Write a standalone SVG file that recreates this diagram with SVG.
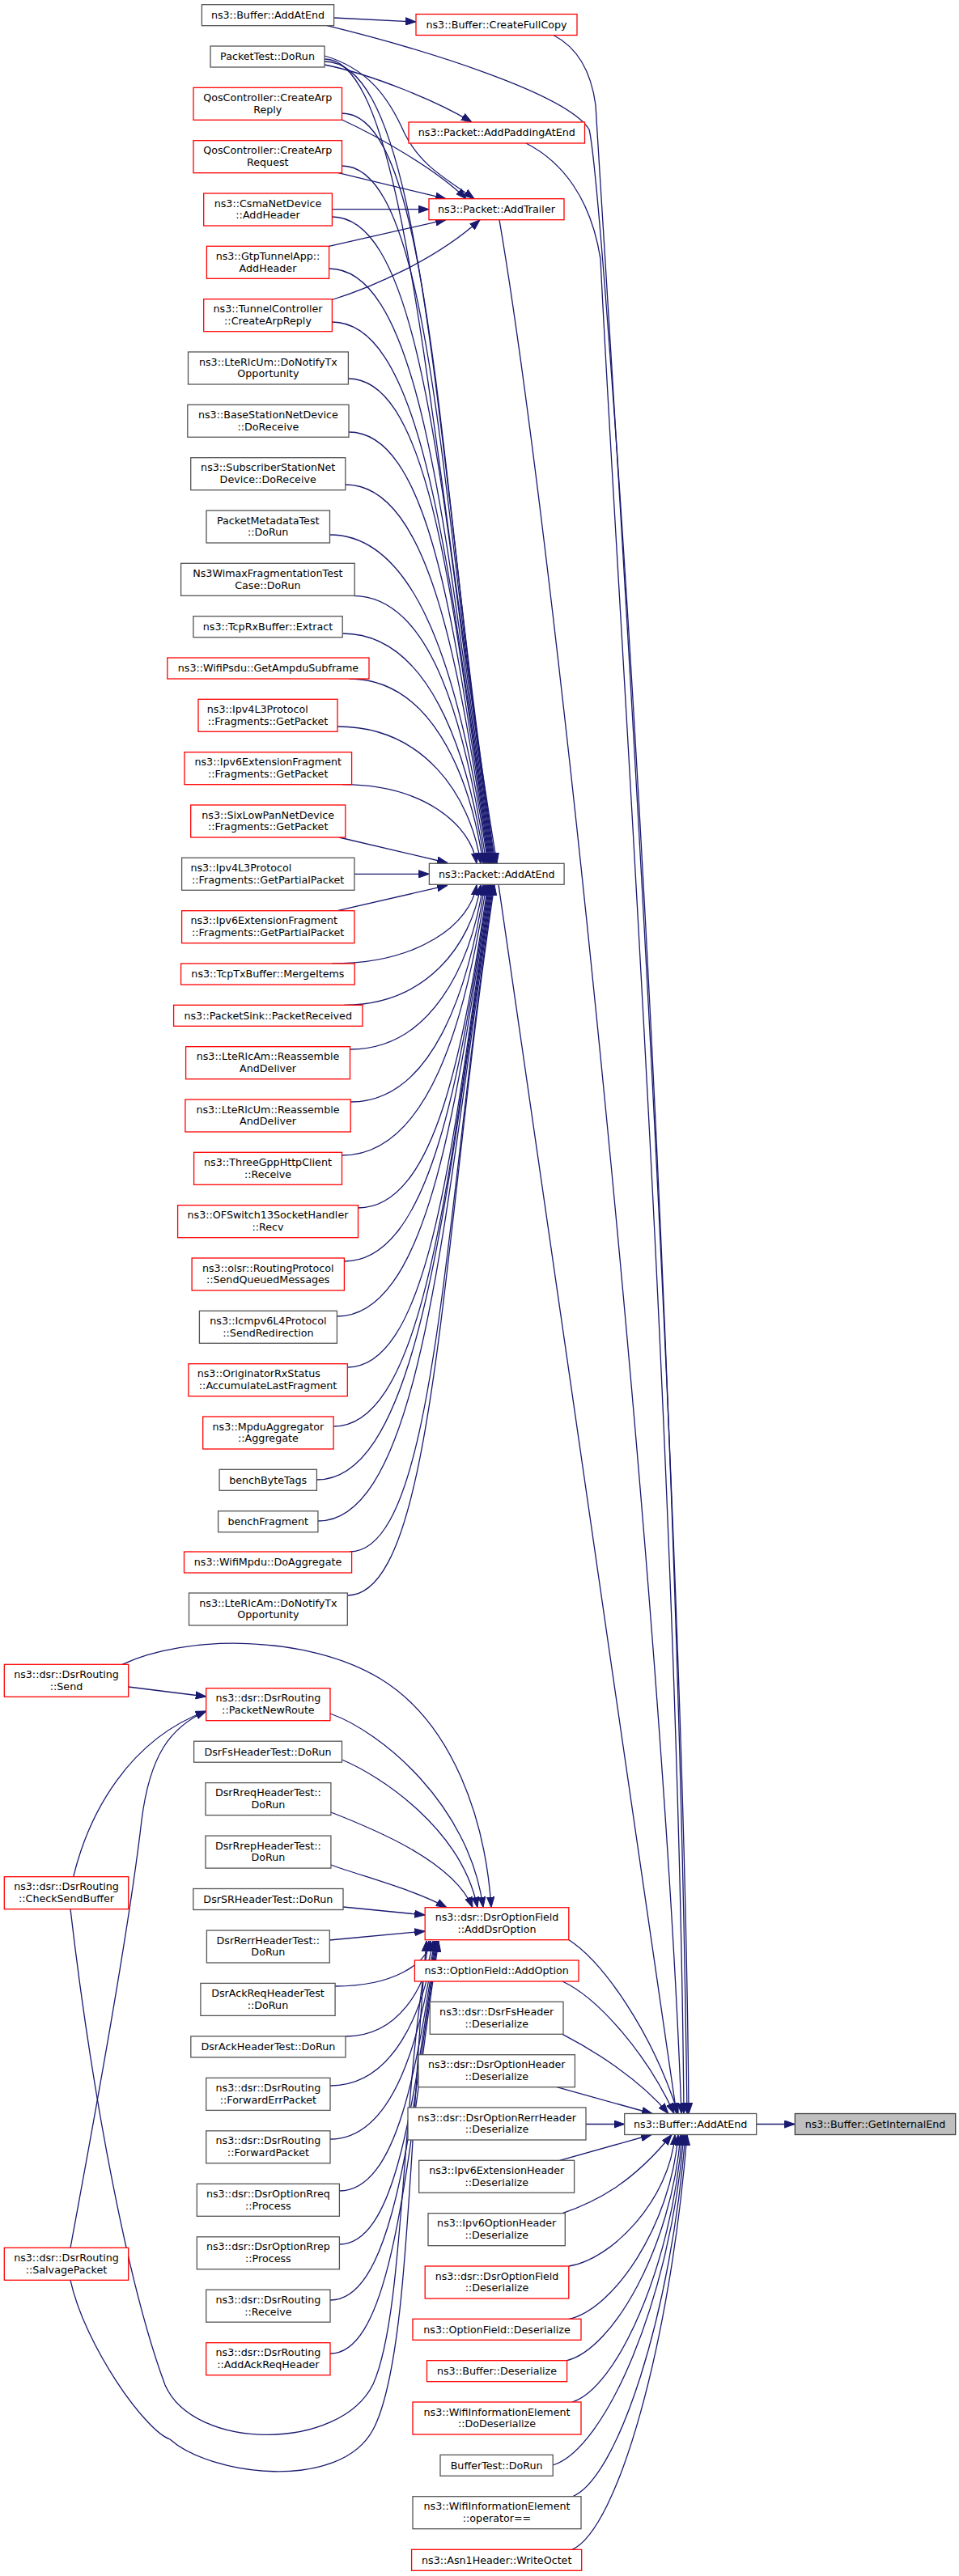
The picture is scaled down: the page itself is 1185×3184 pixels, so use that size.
<svg xmlns="http://www.w3.org/2000/svg" width="1185" height="3184" viewBox="0 0 1185 3184">
<defs>
<style>
rect{stroke-width:1.3}
.k{fill:#fff;stroke:#555}
.r{fill:#fff;stroke:#f00}
.g{fill:#bfbfbf;stroke:#404040}
text{font-family:"DejaVu Sans","Liberation Sans",sans-serif;font-size:12.7px;fill:#000;text-anchor:middle}
text.l{text-anchor:start}
#edges path{fill:none;stroke:#191970;stroke-width:1.3;marker-end:url(#a)}
</style>
<marker id="a" viewBox="0 0 13 10" refX="13" refY="5" markerWidth="13" markerHeight="10" markerUnits="userSpaceOnUse" orient="auto"><path d="M0,0.4 L13,5 L0,9.6 z" fill="#191970" stroke="#191970" stroke-width="1"/></marker>
</defs>
<rect width="1185" height="3184" fill="#fff"/>
<g id="edges">
<path d="M412.6,22 L514,27"/>
<path d="M404,31.7 C520,60 700,115 728,160 C745,230 835,1500 849,2612.5"/>
<path d="M684,43.5 C712,58 730,85 736,130 C752,400 845,1800 851,2612.5"/>
<path d="M650,177 C695,200 730,245 742,320 C760,700 838,1800 845,2612.5"/>
<path d="M617,271.7 C690,700 820,2000 842,2612.5"/>
<path d="M616,1093.3 C660,1380 760,2100 836,2612.5"/>
<path d="M401,80 C460,92 540,125 583,151"/>
<path d="M401,69 C455,85 480,120 500,165 C520,205 550,220 586,245.7"/>
<path d="M422.5,148 C470,170 540,210 576,245.7"/>
<path d="M418,213.7 L551,245.7"/>
<path d="M410.4,258.7 L530,258.7"/>
<path d="M406.6,304.3 L551,271.7"/>
<path d="M410.4,370.5 C460,355 540,320 593,271.7"/>
<path d="M401,76 C527.6,76 537.7,571.6 612,1067.3"/>
<path d="M401,73 C505,73 530,560 614,1067.3"/>
<path d="M422.5,140 C535.6,140 541.5,603.7 611,1067.3"/>
<path d="M422.5,205 C535,205 545.3,636.2 610,1067.3"/>
<path d="M410.4,268 C529.6,268 549,667.7 609,1067.3"/>
<path d="M406.6,332 C527.4,332 552.9,699.7 608,1067.3"/>
<path d="M410.4,398 C528.4,398 556.8,732.7 607,1067.3"/>
<path d="M430.4,468 C535.8,468 561,767.7 606,1067.3"/>
<path d="M431,534 C535.4,534 565,800.7 605,1067.3"/>
<path d="M426.8,599 C533.1,599 568.9,833.2 604,1067.3"/>
<path d="M407.5,661 C524.8,661 572.5,864.2 603,1067.3"/>
<path d="M436,736.3 C535,736.3 576.2,901.8 601,1067.3"/>
<path d="M423.2,783 C528.7,783 577.7,925.2 599,1067.3"/>
<path d="M431,839 C530.6,839 579.9,953.2 597,1067.3"/>
<path d="M417,898 C523.2,898 581.3,982.7 594,1067.3"/>
<path d="M423,969.7 C522.6,969.7 581.7,1018.5 589,1067.3"/>
<path d="M419,1035 L553,1066.5"/>
<path d="M437.9,1080.3 L530.4,1080.3"/>
<path d="M417,1125.7 L553,1094.3"/>
<path d="M410,1191 C517.4,1191 581.7,1142.3 589,1093.5"/>
<path d="M425,1242.3 C526.4,1242.3 582.8,1167.9 594,1093.5"/>
<path d="M432.5,1297 C531.2,1297 581.7,1195.3 597,1093.5"/>
<path d="M433.2,1362 C532.7,1362 578.9,1227.8 599,1093.5"/>
<path d="M422.5,1428 C529.6,1428 575.9,1260.8 601,1093.5"/>
<path d="M442.5,1493 C538.8,1493 573,1293.3 603,1093.5"/>
<path d="M425.4,1559 C532.6,1559 569.1,1326.3 604,1093.5"/>
<path d="M416.4,1627 C529.6,1627 565,1360.3 605,1093.5"/>
<path d="M429.3,1690 C535.3,1690 561.3,1391.8 606,1093.5"/>
<path d="M412.1,1763 C529,1763 556.8,1428.3 607,1093.5"/>
<path d="M391.4,1829 C521.4,1829 552.8,1461.3 608,1093.5"/>
<path d="M392.9,1880 C522.6,1880 550,1486.8 609,1093.5"/>
<path d="M432,1918 C538.8,1918 548.2,1505.8 610,1093.5"/>
<path d="M429.3,1972 C538.3,1972 545.1,1532.8 611,1093.5"/>
<path d="M158.7,2085 L254.7,2097"/>
<path d="M90.7,2319.7 C110,2240 160,2150 254.7,2115"/>
<path d="M87,2778.3 C120,2600 160,2380 175,2250 C185,2170 210,2135 254.7,2115"/>
<path d="M151,2057.3 C230,2020 380,2020 470,2075 C560,2130 600,2250 607,2357.7"/>
<path d="M408,2118 C470,2140 580,2230 597,2357.7"/>
<path d="M422.5,2175 C470,2195 570,2260 590,2357.7"/>
<path d="M409,2240 C460,2260 560,2300 584,2357.7"/>
<path d="M409,2305 C450,2320 510,2335 552,2357.7"/>
<path d="M424,2357 L525.2,2367"/>
<path d="M407.3,2398 L525.2,2387"/>
<path d="M414.1,2455 C486.6,2455 528,2427 532,2399"/>
<path d="M427,2517 C491.8,2517 526.2,2458 535,2399"/>
<path d="M408,2578 C485.4,2578 523.6,2488.5 537,2399"/>
<path d="M408,2644 C486,2644 519.6,2521.5 538,2399"/>
<path d="M419.4,2708 C491.2,2708 515.8,2553.5 539,2399"/>
<path d="M419.4,2774 C491.8,2774 511.9,2586.5 540,2399"/>
<path d="M408,2843 C487.8,2843 507.7,2621 541,2399"/>
<path d="M408,2909 C488.4,2909 503.8,2654 542,2399"/>
<path d="M87,2359.7 C115,2600 160,2830 204,2948 C240,3030 420,3030 461,2947 C500,2860 495,2600 530,2399"/>
<path d="M87,2818.3 C105,2900 180,3005 210,3015 C260,3060 420,3080 461,3003 C505,2920 505,2650 527,2399"/>
<path d="M703,2397.7 C745,2425 805,2510 838,2612.5"/>
<path d="M695,2449 C740,2470 800,2540 833,2612.5"/>
<path d="M695,2514.3 C735,2535 790,2570 826,2612.5"/>
<path d="M688,2579.7 L806,2612.5"/>
<path d="M724,2625.5 L771.7,2625.5"/>
<path d="M691.6,2670.3 L805,2638.5"/>
<path d="M695,2735.7 C735,2722 780,2700 830,2638.5"/>
<path d="M703,2801 C755.4,2792.9 827.5,2719.8 834,2638.5"/>
<path d="M703,2866.3 C757,2854.9 828.9,2752.4 838,2638.5"/>
<path d="M700.6,2917.7 C756.8,2903.7 829.8,2778.1 841,2638.5"/>
<path d="M707,2969 C761.4,2952.5 829.8,2803.8 843,2638.5"/>
<path d="M683.2,3047 C747.9,3026.6 828.7,2842.8 845,2638.5"/>
<path d="M707,3086 C763,3063.6 829.1,2862.3 847,2638.5"/>
<path d="M707,3151.3 C763.8,3125.7 828.5,2894.9 849,2638.5"/>
<path d="M934.7,2625.5 L982.3,2625.5"/>
</g>
<g id="n1"><rect class="k" x="249.4" y="5.7" width="163.2" height="26"/><text x="331" y="23">ns3::Buffer::AddAtEnd</text></g>
<g id="n2"><rect class="r" x="514" y="17.5" width="199" height="26"/><text x="613.5" y="34.8">ns3::Buffer::CreateFullCopy</text></g>
<g id="n3"><rect class="k" x="260" y="57" width="141" height="26"/><text x="330.5" y="74.3">PacketTest::DoRun</text></g>
<g id="n4"><rect class="r" x="239" y="108.3" width="183.5" height="40"/><text x="330.8" y="124.8">QosController::CreateArp</text><text x="330.8" y="139.6">Reply</text></g>
<g id="n5"><rect class="r" x="505" y="151" width="217.5" height="26"/><text x="613.8" y="168.3">ns3::Packet::AddPaddingAtEnd</text></g>
<g id="n6"><rect class="r" x="239" y="173.7" width="183.5" height="40"/><text x="330.8" y="190.2">QosController::CreateArp</text><text x="330.8" y="205">Request</text></g>
<g id="n7"><rect class="r" x="251.7" y="239" width="158.7" height="40"/><text x="331" y="255.5">ns3::CsmaNetDevice</text><text x="331" y="270.3">::AddHeader</text></g>
<g id="n8"><rect class="r" x="530" y="245.7" width="167" height="26"/><text x="613.5" y="263">ns3::Packet::AddTrailer</text></g>
<g id="n9"><rect class="r" x="255.4" y="304.3" width="151.2" height="40"/><text x="331" y="320.8">ns3::GtpTunnelApp::</text><text x="331" y="335.6">AddHeader</text></g>
<g id="n10"><rect class="r" x="251.7" y="369.7" width="158.7" height="40"/><text x="331" y="386.2">ns3::TunnelController</text><text x="331" y="401">::CreateArpReply</text></g>
<g id="n11"><rect class="k" x="232.5" y="435" width="197.9" height="40"/><text x="331.4" y="451.5">ns3::LteRlcUm::DoNotifyTx</text><text x="331.4" y="466.3">Opportunity</text></g>
<g id="n12"><rect class="k" x="231.8" y="500.3" width="199.2" height="40"/><text x="331.4" y="516.8">ns3::BaseStationNetDevice</text><text x="331.4" y="531.6">::DoReceive</text></g>
<g id="n13"><rect class="k" x="235.7" y="565.7" width="191.1" height="40"/><text x="331.2" y="582.2">ns3::SubscriberStationNet</text><text x="331.2" y="597">Device::DoReceive</text></g>
<g id="n14"><rect class="k" x="255" y="631" width="152.5" height="40"/><text x="331.2" y="647.5">PacketMetadataTest</text><text x="331.2" y="662.3">::DoRun</text></g>
<g id="n15"><rect class="k" x="223.6" y="696.3" width="214.6" height="40"/><text x="330.9" y="712.8">Ns3WimaxFragmentationTest</text><text x="330.9" y="727.6">Case::DoRun</text></g>
<g id="n16"><rect class="k" x="238.9" y="761.7" width="184.3" height="26"/><text x="331" y="779">ns3::TcpRxBuffer::Extract</text></g>
<g id="n17"><rect class="r" x="206.8" y="813" width="249.2" height="26"/><text x="331.4" y="830.3">ns3::WifiPsdu::GetAmpduSubframe</text></g>
<g id="n18"><rect class="r" x="245" y="864.3" width="172" height="40"/><text class="l" x="255.8" y="880.8">ns3::Ipv4L3Protocol</text><text x="331" y="895.6">::Fragments::GetPacket</text></g>
<g id="n19"><rect class="r" x="227.9" y="929.7" width="206.7" height="40"/><text x="331.2" y="946.2">ns3::Ipv6ExtensionFragment</text><text x="331.2" y="961">::Fragments::GetPacket</text></g>
<g id="n20"><rect class="r" x="235.7" y="995" width="191.1" height="40"/><text x="331.2" y="1011.5">ns3::SixLowPanNetDevice</text><text x="331.2" y="1026.3">::Fragments::GetPacket</text></g>
<g id="n21"><rect class="k" x="224.6" y="1060.3" width="213.3" height="40"/><text class="l" x="235.4" y="1076.8">ns3::Ipv4L3Protocol</text><text x="331.2" y="1091.6">::Fragments::GetPartialPacket</text></g>
<g id="n22"><rect class="r" x="224.6" y="1125.7" width="213.3" height="40"/><text class="l" x="235.4" y="1142.2">ns3::Ipv6ExtensionFragment</text><text x="331.2" y="1157">::Fragments::GetPartialPacket</text></g>
<g id="n23"><rect class="r" x="223.6" y="1191" width="214.6" height="26"/><text x="330.9" y="1208.3">ns3::TcpTxBuffer::MergeItems</text></g>
<g id="n24"><rect class="r" x="214.6" y="1242.3" width="233.3" height="26"/><text x="331.2" y="1259.6">ns3::PacketSink::PacketReceived</text></g>
<g id="n25"><rect class="r" x="229.6" y="1293.7" width="202.9" height="40"/><text x="331" y="1310.2">ns3::LteRlcAm::Reassemble</text><text x="331" y="1325">AndDeliver</text></g>
<g id="n26"><rect class="r" x="228.9" y="1359" width="204.3" height="40"/><text x="331" y="1375.5">ns3::LteRlcUm::Reassemble</text><text x="331" y="1390.3">AndDeliver</text></g>
<g id="n27"><rect class="r" x="239.6" y="1424.3" width="182.9" height="40"/><text x="331" y="1440.8">ns3::ThreeGppHttpClient</text><text x="331" y="1455.6">::Receive</text></g>
<g id="n28"><rect class="r" x="219.6" y="1489.7" width="222.9" height="40"/><text x="331" y="1506.2">ns3::OFSwitch13SocketHandler</text><text x="331" y="1521">::Recv</text></g>
<g id="n29"><rect class="r" x="237.1" y="1555" width="188.3" height="40"/><text x="331.2" y="1571.5">ns3::olsr::RoutingProtocol</text><text x="331.2" y="1586.3">::SendQueuedMessages</text></g>
<g id="n30"><rect class="k" x="246.4" y="1620.3" width="170" height="40"/><text x="331.4" y="1636.8">ns3::Icmpv6L4Protocol</text><text x="331.4" y="1651.6">::SendRedirection</text></g>
<g id="n31"><rect class="r" x="232.9" y="1685.7" width="196.4" height="40"/><text class="l" x="243.7" y="1702.2">ns3::OriginatorRxStatus</text><text x="331.1" y="1717">::AccumulateLastFragment</text></g>
<g id="n32"><rect class="r" x="250.7" y="1751" width="161.4" height="40"/><text x="331.4" y="1767.5">ns3::MpduAggregator</text><text x="331.4" y="1782.3">::Aggregate</text></g>
<g id="n33"><rect class="k" x="271.1" y="1816.3" width="120.3" height="26"/><text x="331.2" y="1833.6">benchByteTags</text></g>
<g id="n34"><rect class="k" x="269.6" y="1867.7" width="123.3" height="26"/><text x="331.2" y="1885">benchFragment</text></g>
<g id="n35"><rect class="r" x="227.5" y="1918" width="207.1" height="26"/><text x="331" y="1935.3">ns3::WifiMpdu::DoAggregate</text></g>
<g id="n36"><rect class="k" x="233.5" y="1969" width="195.8" height="40"/><text x="331.4" y="1985.5">ns3::LteRlcAm::DoNotifyTx</text><text x="331.4" y="2000.3">Opportunity</text></g>
<g id="n37"><rect class="k" x="530.4" y="1067.3" width="166.7" height="26"/><text x="613.8" y="1084.6">ns3::Packet::AddAtEnd</text></g>
<g id="n38"><rect class="r" x="5.3" y="2057.3" width="153.4" height="40"/><text x="82" y="2073.8">ns3::dsr::DsrRouting</text><text x="82" y="2088.6">::Send</text></g>
<g id="n39"><rect class="r" x="254.7" y="2086.7" width="153.3" height="40"/><text x="331.4" y="2103.2">ns3::dsr::DsrRouting</text><text x="331.4" y="2118">::PacketNewRoute</text></g>
<g id="n40"><rect class="k" x="239.6" y="2152.2" width="182.9" height="26"/><text x="331" y="2169.5">DsrFsHeaderTest::DoRun</text></g>
<g id="n41"><rect class="k" x="254" y="2203.6" width="154.9" height="40"/><text x="331.4" y="2220.1">DsrRreqHeaderTest::</text><text x="331.4" y="2234.9">DoRun</text></g>
<g id="n42"><rect class="k" x="254" y="2269.1" width="154.9" height="40"/><text x="331.4" y="2285.6">DsrRrepHeaderTest::</text><text x="331.4" y="2300.4">DoRun</text></g>
<g id="n43"><rect class="r" x="5.3" y="2319.7" width="153.4" height="40"/><text x="82" y="2336.2">ns3::dsr::DsrRouting</text><text x="82" y="2351">::CheckSendBuffer</text></g>
<g id="n44"><rect class="k" x="238.8" y="2334.5" width="185.2" height="26"/><text x="331.4" y="2351.8">DsrSRHeaderTest::DoRun</text></g>
<g id="n45"><rect class="k" x="255.4" y="2386" width="151.9" height="40"/><text x="331.3" y="2402.5">DsrRerrHeaderTest::</text><text x="331.3" y="2417.3">DoRun</text></g>
<g id="n46"><rect class="k" x="247.9" y="2451.4" width="166.2" height="40"/><text x="331" y="2467.9">DsrAckReqHeaderTest</text><text x="331" y="2482.7">::DoRun</text></g>
<g id="n47"><rect class="k" x="235.8" y="2516.9" width="191.2" height="26"/><text x="331.4" y="2534.2">DsrAckHeaderTest::DoRun</text></g>
<g id="n48"><rect class="k" x="254.7" y="2568.4" width="153.3" height="40"/><text x="331.4" y="2584.9">ns3::dsr::DsrRouting</text><text x="331.4" y="2599.7">::ForwardErrPacket</text></g>
<g id="n49"><rect class="k" x="254.7" y="2633.8" width="153.3" height="40"/><text x="331.4" y="2650.3">ns3::dsr::DsrRouting</text><text x="331.4" y="2665.1">::ForwardPacket</text></g>
<g id="n50"><rect class="k" x="243.3" y="2699.3" width="176.1" height="40"/><text x="331.4" y="2715.8">ns3::dsr::DsrOptionRreq</text><text x="331.4" y="2730.6">::Process</text></g>
<g id="n51"><rect class="k" x="243.3" y="2764.8" width="176.1" height="40"/><text x="331.4" y="2781.3">ns3::dsr::DsrOptionRrep</text><text x="331.4" y="2796.1">::Process</text></g>
<g id="n52"><rect class="r" x="5.3" y="2778.3" width="153.4" height="40"/><text x="82" y="2794.8">ns3::dsr::DsrRouting</text><text x="82" y="2809.6">::SalvagePacket</text></g>
<g id="n53"><rect class="k" x="254.7" y="2830.2" width="153.3" height="40"/><text x="331.4" y="2846.7">ns3::dsr::DsrRouting</text><text x="331.4" y="2861.5">::Receive</text></g>
<g id="n54"><rect class="r" x="254.7" y="2895.7" width="153.3" height="40"/><text x="331.4" y="2912.2">ns3::dsr::DsrRouting</text><text x="331.4" y="2927">::AddAckReqHeader</text></g>
<g id="n55"><rect class="r" x="525.2" y="2357.7" width="177.6" height="40"/><text x="614" y="2374.2">ns3::dsr::DsrOptionField</text><text x="614" y="2389">::AddDsrOption</text></g>
<g id="n56"><rect class="r" x="512.4" y="2423" width="202.6" height="26"/><text x="613.7" y="2440.3">ns3::OptionField::AddOption</text></g>
<g id="n57"><rect class="k" x="531.3" y="2474.3" width="164.7" height="40"/><text x="613.7" y="2490.8">ns3::dsr::DsrFsHeader</text><text x="613.7" y="2505.6">::Deserialize</text></g>
<g id="n58"><rect class="k" x="517" y="2539.7" width="193.4" height="40"/><text x="613.7" y="2556.2">ns3::dsr::DsrOptionHeader</text><text x="613.7" y="2571">::Deserialize</text></g>
<g id="n59"><rect class="k" x="504" y="2605" width="220" height="40"/><text x="614" y="2621.5">ns3::dsr::DsrOptionRerrHeader</text><text x="614" y="2636.3">::Deserialize</text></g>
<g id="n60"><rect class="k" x="771.7" y="2612.5" width="163" height="26"/><text x="853.2" y="2629.8">ns3::Buffer::AddAtEnd</text></g>
<g id="n61"><rect class="g" x="982.3" y="2612.5" width="198.4" height="26"/><text x="1081.5" y="2629.8">ns3::Buffer::GetInternalEnd</text></g>
<g id="n62"><rect class="k" x="517.7" y="2670.3" width="191.9" height="40"/><text x="613.7" y="2686.8">ns3::Ipv6ExtensionHeader</text><text x="613.7" y="2701.6">::Deserialize</text></g>
<g id="n63"><rect class="k" x="529" y="2735.7" width="169.3" height="40"/><text x="613.7" y="2752.2">ns3::Ipv6OptionHeader</text><text x="613.7" y="2767">::Deserialize</text></g>
<g id="n64"><rect class="r" x="525.2" y="2801" width="177.6" height="40"/><text x="614" y="2817.5">ns3::dsr::DsrOptionField</text><text x="614" y="2832.3">::Deserialize</text></g>
<g id="n65"><rect class="r" x="510" y="2866.3" width="208" height="26"/><text x="614" y="2883.6">ns3::OptionField::Deserialize</text></g>
<g id="n66"><rect class="r" x="527.5" y="2917.7" width="173.1" height="26"/><text x="614" y="2935">ns3::Buffer::Deserialize</text></g>
<g id="n67"><rect class="r" x="510" y="2969" width="208" height="40"/><text x="614" y="2985.5">ns3::WifiInformationElement</text><text x="614" y="3000.3">::DoDeserialize</text></g>
<g id="n68"><rect class="k" x="544" y="3034.3" width="139.2" height="26"/><text x="613.6" y="3051.6">BufferTest::DoRun</text></g>
<g id="n69"><rect class="k" x="510" y="3085.7" width="208" height="40"/><text x="614" y="3102.2">ns3::WifiInformationElement</text><text x="614" y="3117">::operator==</text></g>
<g id="n70"><rect class="r" x="508.6" y="3151.3" width="210.1" height="26"/><text x="613.7" y="3168.6">ns3::Asn1Header::WriteOctet</text></g>
</svg>
